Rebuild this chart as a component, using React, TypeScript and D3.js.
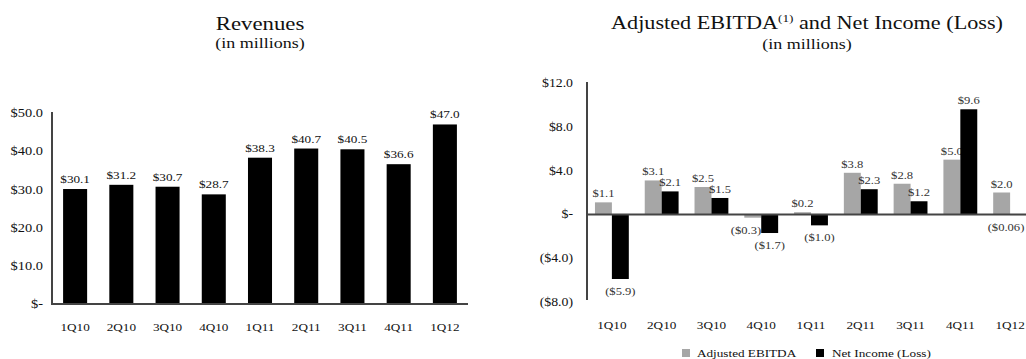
import * as d3 from 'd3';
import type { ReactNode } from 'react';

const quarters = ['1Q10', '2Q10', '3Q10', '4Q10', '1Q11', '2Q11', '3Q11', '4Q11', '1Q12'];
const revenues = [30.1, 31.2, 30.7, 28.7, 38.3, 40.7, 40.5, 36.6, 47.0];
const ebitda = [1.1, 3.1, 2.5, -0.3, 0.2, 3.8, 2.8, 5.0, 2.0];
const netIncome = [-5.9, 2.1, 1.5, -1.7, -1.0, 2.3, 1.2, 9.6, -0.06];
const revTicks = [0, 10, 20, 30, 40, 50];
const profitTicks = [-8, -4, 0, 4, 8, 12];
const seriesNames = ['Adjusted EBITDA', 'Net Income (Loss)'];
const seriesColors = ['#a6a6a6', '#000000'];

const W = 1026;
const H = 359;
const FONT = 'Liberation Serif, DejaVu Serif, serif';
// the source picture is stretched sideways, so text is drawn a bit wider than tall
const STRETCH = 1.2;

const money = (v: number, digits = 1) => {
  if (v === 0) return '$-';
  const s = '$' + Math.abs(v).toFixed(digits);
  return v < 0 ? `(${s})` : s;
};

type TProps = {
  x: number;
  y: number;
  size: number;
  anchor?: 'start' | 'middle' | 'end';
  middle?: boolean;
  fill?: string;
  children: ReactNode;
};

function T({ x, y, size, anchor = 'middle', middle = false, fill = '#111', children }: TProps) {
  return (
    <text
      transform={`translate(${x},${y}) scale(${STRETCH},1)`}
      textAnchor={anchor}
      dy={middle ? '0.35em' : undefined}
      fontSize={size}
      fill={fill}
    >
      {children}
    </text>
  );
}

function Revenues() {
  const x = d3.scaleBand().domain(quarters).range([52, 468]).paddingInner(0.48).paddingOuter(0.24);
  const y = d3.scaleLinear().domain([0, 50]).range([304, 113]);
  return (
    <g>
      <T x={260} y={30} size={19}>Revenues</T>
      <T x={260} y={48} size={15}>(in millions)</T>
      {revTicks.map((t) => (
        <T key={t} x={43} y={y(t)} middle anchor="end" size={12}>
          {money(t)}
        </T>
      ))}
      {quarters.map((q, i) => (
        <g key={q}>
          <rect x={x(q)} y={y(revenues[i])} width={x.bandwidth()} height={y(0) - y(revenues[i])} fill="#000" />
          <T x={x(q)! + x.bandwidth() / 2} y={y(revenues[i]) - 6} size={11}>
            {money(revenues[i])}
          </T>
          <T x={x(q)! + x.bandwidth() / 2} y={331} size={11}>{q}</T>
        </g>
      ))}
      <line x1={52} x2={52} y1={112} y2={304} stroke="#444" strokeWidth={2} />
      <line x1={51} x2={468} y1={304} y2={304} stroke="#444" strokeWidth={2} />
    </g>
  );
}

function Profit() {
  const x0 = d3.scaleBand().domain(quarters).range([587, 1035]).paddingInner(0.32).paddingOuter(0.16);
  const x1 = d3.scaleBand().domain(seriesNames).range([0, x0.bandwidth()]);
  const y = d3.scaleLinear().domain([-8, 12]).range([302, 83]);
  const series = [ebitda, netIncome];
  return (
    <g>
      <T x={807} y={29} size={18.5}>
        Adjusted EBITDA<tspan fontSize={11} dy={-7}>(1)</tspan>
        <tspan dy={7}> and Net Income (Loss)</tspan>
      </T>
      <T x={807} y={49} size={15}>(in millions)</T>
      {profitTicks.map((t) => (
        <T key={t} x={573} y={y(t)} middle anchor="end" size={11.5}>
          {money(t)}
        </T>
      ))}
      {quarters.map((q, i) => (
        <g key={q}>
          {series.map((s, k) => {
            const v = s[i];
            const bx = x0(q)! + x1(seriesNames[k])!;
            const bw = x1.bandwidth();
            // negative EBITDA labels sit flush with the bar's right edge, as in the source
            const leftNeg = v < 0 && k === 0;
            const lx = leftNeg ? bx + bw : Math.min(bx + bw / 2, W - 20);
            return (
              <g key={k}>
                <rect
                  x={bx}
                  y={y(Math.max(0, v))}
                  width={bw}
                  height={Math.abs(y(v) - y(0))}
                  fill={seriesColors[k]}
                />
                <T
                  x={lx}
                  y={v >= 0 ? y(v) - 5 : y(v) + 16}
                  anchor={leftNeg ? 'end' : 'middle'}
                  size={10.5}
                  fill="#333"
                >
                  {money(v, Math.abs(v) < 0.1 ? 2 : 1)}
                </T>
              </g>
            );
          })}
          <T x={x0(q)! + x0.bandwidth() / 2} y={329} size={11}>{q}</T>
        </g>
      ))}
      <line x1={587} x2={587} y1={82} y2={300} stroke="#444" strokeWidth={2} />
      <line x1={586} x2={W} y1={y(0)} y2={y(0)} stroke="#444" strokeWidth={2} />
      {seriesNames.map((n, k) => (
        <g key={n}>
          <rect x={k === 0 ? 682 : 816} y={349} width={8} height={8} fill={seriesColors[k]} />
          <T x={k === 0 ? 697 : 832} y={353} middle anchor="start" size={11}>{n}</T>
        </g>
      ))}
    </g>
  );
}

export default function App() {
  return (
    <svg
      width={W}
      height={H}
      style={{ position: 'absolute', left: 0, top: 0, background: '#fff', fontFamily: FONT }}
    >
      <Revenues />
      <Profit />
    </svg>
  );
}
